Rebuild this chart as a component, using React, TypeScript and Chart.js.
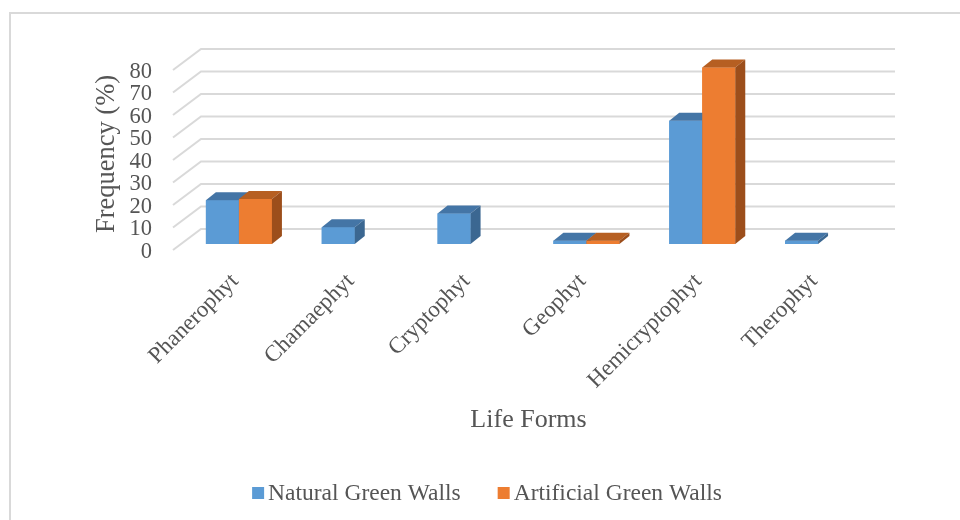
import React, { useEffect, useRef } from "react";
import { Chart, registerables } from "chart.js";

Chart.register(...registerables);

const categories = ["Phanerophyt", "Chamaephyt", "Cryptophyt", "Geophyt", "Hemicryptophyt", "Therophyt"];
const naturalValues = [19.5, 7.5, 13.6, 1.5, 54.8, 1.5];
const artificialValues = [20, 0, 0, 1.5, 78.4, 0];
const seriesNames = ["Natural Green Walls", "Artificial Green Walls"];
const yMin = 0;
const yMax = 80;
const yStep = 10;
const xTitle = "Life Forms";
const yTitle = "Frequency (%)";

const FONT = "'Liberation Serif', 'Times New Roman', serif";
const TEXT = "#555555";
const FRONT = ["#5b9bd5", "#ed7d31"];
const TOP = ["#4475a6", "#b65f22"];
const SIDE = ["#3b6791", "#9c4e1b"];

const excel3d = {
  id: "excel3d",
  beforeDraw(chart: any) {
    const { ctx } = chart;
    ctx.save();
    ctx.fillStyle = "#ffffff";
    ctx.fillRect(0, 0, chart.width, chart.height);
    ctx.strokeStyle = "#d9d9d9";
    ctx.lineWidth = 2;
    ctx.beginPath();
    ctx.moveTo(10, chart.height);
    ctx.lineTo(10, 13);
    ctx.lineTo(chart.width, 13);
    ctx.stroke();
    ctx.restore();
  },
  beforeDatasetsDraw(chart: any) {
    const { ctx, chartArea, scales } = chart;
    const y = scales.y;
    ctx.save();
    ctx.strokeStyle = "#d9d9d9";
    ctx.lineWidth = 2;
    y.ticks.forEach((t: any) => {
      const py = y.getPixelForValue(t.value);
      ctx.beginPath();
      ctx.moveTo(chartArea.left - 8, py + 6);
      ctx.lineTo(chartArea.left + 20, py - 15);
      ctx.lineTo(chartArea.right + 19, py - 15);
      ctx.stroke();
    });
    ctx.restore();
  },
  afterDatasetsDraw(chart: any) {
    const { ctx } = chart;
    const dx = 10;
    const dy = -8;
    ctx.save();
    chart.data.datasets.forEach((ds: any, di: number) => {
      const meta = chart.getDatasetMeta(di);
      meta.data.forEach((el: any, i: number) => {
        const v = ds.data[i];
        if (!v) return;
        const { x, y, base, width } = el.getProps(["x", "y", "base", "width"], true);
        const l = x - width / 2;
        const r = x + width / 2;
        ctx.fillStyle = FRONT[di];
        ctx.fillRect(l, y, width, base - y);
        ctx.fillStyle = TOP[di];
        ctx.beginPath();
        ctx.moveTo(l, y);
        ctx.lineTo(r, y);
        ctx.lineTo(r + dx, y + dy);
        ctx.lineTo(l + dx, y + dy);
        ctx.closePath();
        ctx.fill();
        ctx.fillStyle = SIDE[di];
        ctx.beginPath();
        ctx.moveTo(r, y);
        ctx.lineTo(r + dx, y + dy);
        ctx.lineTo(r + dx, base + dy);
        ctx.lineTo(r, base);
        ctx.closePath();
        ctx.fill();
      });
    });
    ctx.restore();
  },
  afterDraw(chart: any) {
    const { ctx } = chart;
    ctx.save();
    ctx.font = `23.5px ${FONT}`;
    ctx.textBaseline = "middle";
    const box = 12;
    const gapText = 4;
    const gapItem = 37;
    const items = chart.data.datasets.map((ds: any) => ({ label: ds.label, color: ds.backgroundColor, w: ctx.measureText(ds.label).width }));
    const total = items.reduce((s: number, it: any) => s + box + gapText + it.w, 0) + gapItem * (items.length - 1);
    let x = 487 - total / 2;
    const cy = 493;
    items.forEach((it: any) => {
      ctx.fillStyle = it.color;
      ctx.fillRect(x, cy - box / 2, box, box);
      x += box + gapText;
      ctx.fillStyle = TEXT;
      ctx.fillText(it.label, x, cy + 1);
      x += it.w + gapItem;
    });
    ctx.restore();
  },
};

export default function App() {
  const ref = useRef<HTMLCanvasElement>(null);
  useEffect(() => {
    const chart = new Chart(ref.current as HTMLCanvasElement, {
      type: "bar",
      data: {
        labels: categories,
        datasets: [
          { label: seriesNames[0], data: naturalValues, backgroundColor: FRONT[0], borderWidth: 0 },
          { label: seriesNames[1], data: artificialValues, backgroundColor: FRONT[1], borderWidth: 0 },
        ],
      },
      options: {
        responsive: false,
        animation: false,
        layout: { padding: { top: 64, left: 0, right: 84, bottom: 0 } },
        datasets: { bar: { categoryPercentage: 0.57, barPercentage: 1 } },
        plugins: { legend: { display: false }, tooltip: { enabled: false } },
        scales: {
          x: {
            grid: { display: false, drawTicks: false },
            border: { display: false },
            ticks: {
              minRotation: 45,
              maxRotation: 45,
              autoSkip: false,
              padding: 24,
              labelOffset: -4,
              color: TEXT,
              font: { family: FONT, size: 23 },
            },
            title: {
              display: true,
              text: xTitle,
              color: TEXT,
              font: { family: FONT, size: 26 },
              padding: { top: 0, bottom: 84 },
            },
            afterFit: (scale: any) => {
              scale.height = 276;
            },
          },
          y: {
            min: yMin,
            max: yMax,
            grid: { display: false, drawTicks: false },
            border: { display: false },
            ticks: {
              stepSize: yStep,
              autoSkip: false,
              labelOffset: 8,
              padding: 29,
              color: TEXT,
              font: { family: FONT, size: 22.5 },
            },
            title: {
              display: true,
              text: yTitle,
              color: TEXT,
              font: { family: FONT, size: 26.5 },
              padding: { top: 91, bottom: 0 },
            },
            afterFit: (scale: any) => {
              scale.width = 181;
            },
          },
        },
      },
      plugins: [excel3d],
    });
    return () => chart.destroy();
  }, []);
  return (
    <div style={{ position: "fixed", left: 0, top: 0, width: 960, height: 520, background: "#fff" }}>
      <canvas ref={ref} width={960} height={520} style={{ display: "block" }} />
    </div>
  );
}
